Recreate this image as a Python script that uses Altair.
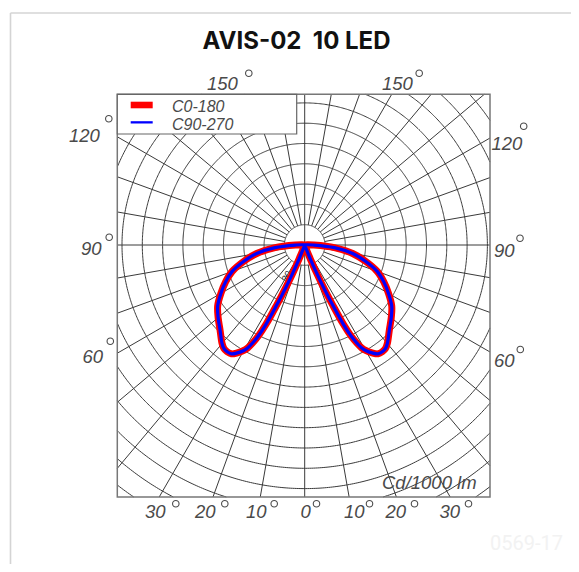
import math
import numpy as np
import pandas as pd
import altair as alt

# ---------------- data ----------------
TITLE = "AVIS-02\u00a0 10 LED"
SERIES = ["C0-180", "C90-270"]
SERIES_COLORS = ["#ff0000", "#0000ff"]
# polar angle gamma (deg from nadir) and luminous intensity (cd/1000 lm)
GAMMA = [0, 5, 10, 15, 20, 22, 23, 24, 25, 26, 27, 28, 29, 30, 32, 34, 36, 38, 40,
         45, 50, 55, 60, 65, 70, 75, 80, 85, 90, 95, 100, 110, 120, 130, 140, 150, 160, 170, 180]
C0_180 = [0, 0, 0, 1, 4, 22, 44, 71, 98, 130, 151, 164, 174, 180, 188, 194, 195, 194, 190,
          177, 167, 157, 143, 129, 114, 93, 72, 44, 13, 4, 1, 0, 0, 0, 0, 0, 0, 0, 0]
C90_270 = [0, 0, 0, 1, 4, 22, 44, 71, 98, 130, 151, 164, 174, 180, 188, 194, 195, 194, 190,
           177, 167, 157, 143, 129, 114, 93, 72, 44, 13, 4, 1, 0, 0, 0, 0, 0, 0, 0, 0]
CIRCLE_STEP = 30          # cd/1000 lm per grid circle
N_CIRCLES = 15
RADIAL_STEP = 10          # degrees
TOP_LABELS = ["150", "150"]
SIDE_LEFT = ["120", "90", "60"]
SIDE_RIGHT = ["120", "90", "60"]
BOTTOM_LABELS = ["30", "20", "10", "0", "10", "20", "30"]
UNIT_LABEL = "Cd/1000 lm"
RING_LABEL = "30"
CODE = "0569-17"

# ---------------- layout ----------------
W, H = 563, 556
PX = 20.3 / CIRCLE_STEP        # pixels per cd/klm
CX, CY = 304.7, 245.0          # page position of the polar origin


def fx(X):
    return (X - CX) / PX


def fy(Y):
    return (CY - Y) / PX


XS = alt.Scale(domain=[fx(8), fx(8 + W)], nice=False, zero=False)
YS = alt.Scale(domain=[fy(8 + H), fy(8)], nice=False, zero=False)

BX0, BX1 = fx(117.3), fx(490.0)
BY0, BY1 = fy(497.0), fy(94.3)

LABEL_FONT = "Liberation Sans"
LABEL_SIZE = 18.5
LEGEND_SIZE = 16
LABEL_COLOR = "#4a4a4a"
GRID_COLOR = "#3a3a3a"


def X(field):
    return alt.X(field, type="quantitative", scale=XS, axis=None)


def Y(field):
    return alt.Y(field, type="quantitative", scale=YS, axis=None)


# ---------------- grid circles ----------------
def circle_segments(r):
    ts = [0.0, 2 * math.pi]
    for xv in (BX0, BX1):
        if abs(xv) < r:
            a = math.acos(xv / r)
            ts += [a, 2 * math.pi - a]
    for yv in (BY0, BY1):
        if abs(yv) < r:
            a = math.asin(yv / r)
            ts += [a % (2 * math.pi), (math.pi - a) % (2 * math.pi)]
    ts = sorted(set(ts))
    segs = []
    for a, b in zip(ts[:-1], ts[1:]):
        m = (a + b) / 2
        xm, ym = r * math.cos(m), r * math.sin(m)
        if BX0 - 1e-9 <= xm <= BX1 + 1e-9 and BY0 - 1e-9 <= ym <= BY1 + 1e-9:
            n = max(2, int((b - a) / (math.pi / 360)) + 2)
            segs.append(np.linspace(a, b, n))
    return segs


rows = []
seg_id = 0
for k in range(1, N_CIRCLES + 1):
    r = k * CIRCLE_STEP
    for t in circle_segments(r):
        for i, tt in enumerate(t):
            rows.append({"seg": seg_id, "i": i, "x": r * math.cos(tt), "y": r * math.sin(tt)})
        seg_id += 1
circles_df = pd.DataFrame(rows)

# ---------------- radial lines ----------------
rad_rows = []
for a in range(0, 360, RADIAL_STEP):
    th = math.radians(a)
    c, s = math.cos(th), math.sin(th)
    cands = []
    if c > 1e-9:
        cands.append(BX1 / c)
    if c < -1e-9:
        cands.append(BX0 / c)
    if s > 1e-9:
        cands.append(BY1 / s)
    if s < -1e-9:
        cands.append(BY0 / s)
    tmax = min(cands)
    r0 = 0 if a % 90 == 0 else CIRCLE_STEP
    rad_rows.append({"x": r0 * c, "y": r0 * s, "x2": tmax * c, "y2": tmax * s})
radial_df = pd.DataFrame(rad_rows)


# ---------------- curves ----------------
def curve_df(values, name):
    pts = []
    order = 0
    for g, v in zip(reversed(GAMMA), reversed(values)):
        gr = math.radians(g)
        pts.append({"series": name, "o": order, "x": -v * math.sin(gr), "y": -v * math.cos(gr)})
        order += 1
    for g, v in zip(GAMMA[1:], values[1:]):
        gr = math.radians(g)
        pts.append({"series": name, "o": order, "x": v * math.sin(gr), "y": -v * math.cos(gr)})
        order += 1
    return pd.DataFrame(pts)


red_df = curve_df(C0_180, SERIES[0])
blue_df = curve_df(C90_270, SERIES[1])

# ---------------- layers ----------------
layers = []

# outer frame of the picture
frame_df = pd.DataFrame([
    {"x": fx(10.5), "y": fy(13), "x2": fx(10.5), "y2": fy(8 + H)},
    {"x": fx(10.5), "y": fy(13), "x2": fx(8 + W), "y2": fy(13)},
])
layers.append(alt.Chart(frame_df).mark_rule(color="#d4d4d4", strokeWidth=1.6).encode(
    x=X("x"), y=Y("y"), x2="x2", y2="y2"))

layers.append(alt.Chart(circles_df).mark_line(color=GRID_COLOR, strokeWidth=1).encode(
    x=X("x"), y=Y("y"), detail="seg:N", order="i:Q"))
layers.append(alt.Chart(radial_df).mark_rule(color=GRID_COLOR, strokeWidth=1).encode(
    x=X("x"), y=Y("y"), x2="x2", y2="y2"))

box_df = pd.DataFrame([{"x": BX0, "x2": BX1, "y": BY0, "y2": BY1}])
layers.append(alt.Chart(box_df).mark_rect(fillOpacity=0, stroke="#777777", strokeWidth=1.5).encode(
    x=X("x"), x2="x2", y=Y("y"), y2="y2"))

# ring value label near the centre
ring_df = pd.DataFrame([{"x": fx(287), "y": fy(277), "t": RING_LABEL}])
layers.append(alt.Chart(ring_df).mark_text(font=LABEL_FONT, fontSize=10, fontStyle="italic",
                                           angle=300, color="#333333").encode(
    x=X("x"), y=Y("y"), text="t:N"))

# curves
layers.append(alt.Chart(red_df).mark_line(color=SERIES_COLORS[0], strokeWidth=7,
                                          interpolate="catmull-rom", strokeJoin="round").encode(
    x=X("x"), y=Y("y"), order="o:Q"))
layers.append(alt.Chart(blue_df).mark_line(color=SERIES_COLORS[1], strokeWidth=3.2,
                                           interpolate="catmull-rom", strokeJoin="round").encode(
    x=X("x"), y=Y("y"), order="o:Q"))

# legend
leg_df = pd.DataFrame([{"x": BX0, "x2": fx(296.7), "y": fy(134.0), "y2": BY1}])
layers.append(alt.Chart(leg_df).mark_rect(fill="white", stroke="#666666", strokeWidth=1.2).encode(
    x=X("x"), x2="x2", y=Y("y"), y2="y2"))
sw_df = pd.DataFrame([
    {"x": fx(130.7), "x2": fx(152.7), "y": fy(108.3), "y2": fy(101.7), "c": SERIES[0]},
    {"x": fx(130.7), "x2": fx(152.7), "y": fy(123.5), "y2": fy(121.2), "c": SERIES[1]},
])
layers.append(alt.Chart(sw_df).mark_rect().encode(
    x=X("x"), x2="x2", y=Y("y"), y2="y2",
    color=alt.Color("c:N", scale=alt.Scale(domain=SERIES, range=SERIES_COLORS), legend=None)))
legtxt_df = pd.DataFrame([
    {"x": fx(172.0), "y": fy(112.0), "t": SERIES[0]},
    {"x": fx(172.0), "y": fy(129.5), "t": SERIES[1]},
])
layers.append(alt.Chart(legtxt_df).mark_text(align="left", baseline="alphabetic", font=LABEL_FONT,
                                             fontSize=LEGEND_SIZE, fontStyle="italic",
                                             color=LABEL_COLOR).encode(
    x=X("x"), y=Y("y"), text="t:N"))

# angle labels
lab_rows = [
    (TOP_LABELS[0], 207.0, 90.0), (TOP_LABELS[1], 382.0, 90.0),
    (SIDE_LEFT[0], 69.0, 141.7), (SIDE_LEFT[1], 81.0, 255.0), (SIDE_LEFT[2], 82.5, 363.3),
    (SIDE_RIGHT[0], 491.5, 150.0), (SIDE_RIGHT[1], 494.0, 256.7), (SIDE_RIGHT[2], 494.0, 366.7),
]
for t, xx in zip(BOTTOM_LABELS, [145.0, 195.0, 246.0, 300.5, 344.0, 385.5, 439.5]):
    lab_rows.append((t, xx, 518.3))
lab_rows.append((UNIT_LABEL, 382.0, 488.5))
lab_df = pd.DataFrame([{"t": t, "x": fx(a), "y": fy(b)} for t, a, b in lab_rows])
layers.append(alt.Chart(lab_df).mark_text(align="left", baseline="alphabetic", font=LABEL_FONT,
                                          fontSize=LABEL_SIZE, fontStyle="italic",
                                          color=LABEL_COLOR).encode(
    x=X("x"), y=Y("y"), text="t:N"))

deg_pos = [(248.8, 73.3), (419.2, 73.3), (108.8, 118.8), (109.2, 237.3), (110.3, 341.2),
           (523.7, 126.3), (520.0, 238.3), (520.3, 349.5)]
deg_pos += [(xx, 503.7) for xx in [175.8, 224.8, 274.2, 316.5, 369.5, 414.5, 468.5]]
deg_df = pd.DataFrame([{"x": fx(a), "y": fy(b)} for a, b in deg_pos])
layers.append(alt.Chart(deg_df).mark_point(shape="circle", filled=False, size=42, strokeWidth=1.1,
                                           color=LABEL_COLOR, opacity=1).encode(
    x=X("x"), y=Y("y")))

# title
title_df = pd.DataFrame([{"x": fx(296.5), "y": fy(48.5), "t": TITLE}])
layers.append(alt.Chart(title_df).mark_text(align="center", baseline="alphabetic", font="Inter",
                                            fontSize=24, fontWeight="bold", color="#111111").encode(
    x=X("x"), y=Y("y"), text="t:N"))

# picture code
code_df = pd.DataFrame([{"x": fx(490), "y": fy(550), "t": CODE}])
layers.append(alt.Chart(code_df).mark_text(align="left", baseline="alphabetic", font="Roboto",
                                           fontSize=20, color="#f2f2f2").encode(
    x=X("x"), y=Y("y"), text="t:N"))

chart = alt.layer(*layers).properties(
    width=W, height=H, padding=0,
    autosize=alt.AutoSizeParams(type="none"),
).configure_view(strokeWidth=0)

chart.save("out.html", embed_options={"renderer": "svg", "actions": False})
